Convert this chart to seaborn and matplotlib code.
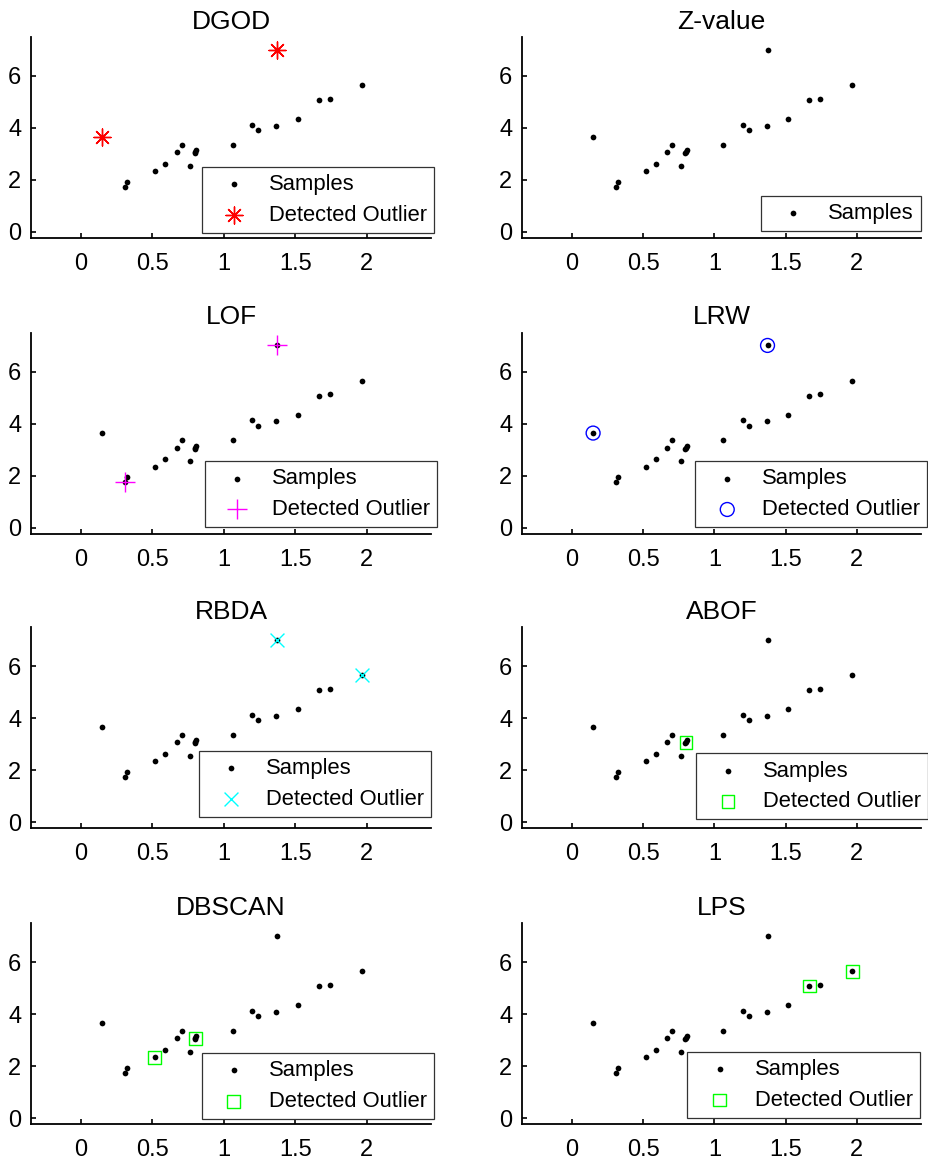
import numpy as np
import pandas as pd
import matplotlib
matplotlib.use("Agg")
import matplotlib.pyplot as plt
import seaborn as sns

# Puntos de muestra
sample_x = [0.149, 0.310, 0.324, 0.517, 0.590, 0.671, 0.704, 0.765, 0.797, 0.807, 0.801,
            1.063, 1.198, 1.242, 1.368, 1.373, 1.520, 1.667, 1.744, 1.967]
sample_y = [3.64, 1.74, 1.94, 2.33, 2.63, 3.08, 3.36, 2.55, 3.03, 3.15, 3.07,
            3.36, 4.13, 3.91, 4.09, 7.01, 4.33, 5.08, 5.13, 5.65]

methods = ["DGOD", "Z-value", "LOF", "LRW", "RBDA", "ABOF", "DBSCAN", "LPS"]
# indices of the detected outliers for each method
outlier_idx = [[0, 15], [], [1, 15], [0, 15], [15, 19], [10], [3, 10], [17, 19]]

x_ticks = [0, 0.5, 1, 1.5, 2]
x_tick_labels = ["0", "0.5", "1", "1.5", "2"]
y_ticks = [0, 2, 4, 6]
y_tick_labels = ["0", "2", "4", "6"]

# estilos de los marcadores de outlier
out_marker = [(8, 2, 0), None, "+", "o", "x", "s", "s", "s"]
out_color = ["#ff0000", None, "#ff00ff", "#0000ff", "#00ffff", "#00ff00", "#00ff00", "#00ff00"]
out_size = [150, None, 190, 100, 100, 85, 85, 85]
# posicion de la leyenda (esquina inferior derecha, fraccion de ejes)
leg_anchor = [(1.0075, 0.025), (1.0, 0.035), (1.016, 0.032), (1.016, 0.032),
              (1.0, 0.056), (1.018, 0.043), (1.0075, 0.025), (0.997, 0.031)]

sns.set_theme(style="white")
plt.rcParams["font.family"] = ["Liberation Sans", "DejaVu Sans"]
plt.rcParams["text.color"] = "black"
plt.rcParams["axes.titlecolor"] = "black"

df = pd.DataFrame({"x": sample_x, "y": sample_y})

fig = plt.figure(figsize=(9.29, 11.63), dpi=100)
col_left = [31 / 929, 522 / 929]
col_width = [400 / 929, 399 / 929]
row_bottom = [0.7954, 0.5411, 0.2880, 0.0335]
ax_height = 201 / 1163

for i, name in enumerate(methods):
    r, c = divmod(i, 2)
    ax = fig.add_axes([col_left[c], row_bottom[r], col_width[c], ax_height])

    sns.scatterplot(data=df, x="x", y="y", ax=ax, color="black", s=17,
                    linewidth=0, marker="o", label="Samples", legend=False, zorder=3)

    idx = outlier_idx[i]
    if out_marker[i] is not None:
        sub = df.iloc[idx]
        if out_marker[i] in ("o", "s"):
            sns.scatterplot(data=sub, x="x", y="y", ax=ax, marker=out_marker[i],
                            s=out_size[i], facecolor="none", edgecolor=out_color[i],
                            linewidth=1.0, label="Detected Outlier", legend=False, zorder=4)
        else:
            sns.scatterplot(data=sub, x="x", y="y", ax=ax, marker=out_marker[i],
                            s=out_size[i], color=out_color[i],
                            linewidth=1.0, label="Detected Outlier", legend=False, zorder=4)

    ax.set_xlim(-0.35, 2.45)
    ax.set_ylim(-0.23, 7.5)
    ax.set_xticks(x_ticks)
    ax.set_xticklabels(x_tick_labels)
    ax.set_yticks(y_ticks)
    ax.set_yticklabels(y_tick_labels)
    ax.set(xlabel="", ylabel="")
    ax.set_title(name, fontsize=19, pad=6, color="black")

    sns.despine(ax=ax)
    for side in ["left", "bottom"]:
        ax.spines[side].set_color("black")
        ax.spines[side].set_linewidth(1.3)
    ax.tick_params(axis="both", direction="in", length=3.5, width=1.2,
                   colors="black", labelsize=17, left=True, bottom=True)
    ax.tick_params(axis="x", pad=11)
    ax.tick_params(axis="y", pad=7)
    ax.grid(False)

    leg = ax.legend(loc="lower right", bbox_to_anchor=leg_anchor[i], borderaxespad=0,
                    fontsize=15.8, frameon=True, fancybox=False, framealpha=1,
                    edgecolor="#333333", borderpad=0.32, labelspacing=0.45,
                    handlelength=2.3, handletextpad=0.45, scatterpoints=1)
    leg.get_frame().set_linewidth(0.9)
    for t in leg.get_texts():
        t.set_color("black")

fig.savefig("out.png", dpi=100)
